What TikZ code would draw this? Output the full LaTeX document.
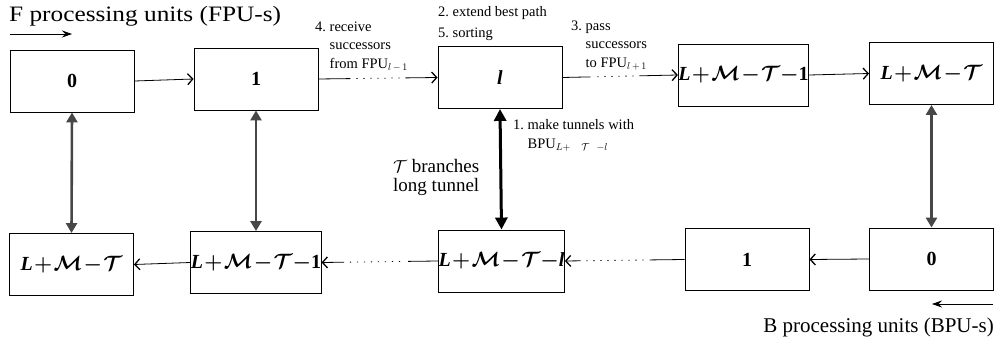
\documentclass[tikz,border=0pt]{standalone}
\usepackage{fontspec}
\setmainfont{Liberation Serif}
\newfontfamily\widefont[FakeStretch=1.15]{Liberation Serif}
\usetikzlibrary{arrows.meta}
\newcommand\bL{\textbf{\textit{L}}}
\newcommand\bl{\textbf{\textit{l}}}
\newcommand\bone{\textbf{1}}
\newcommand\tightops{\medmuskip=1mu\relax}
\begin{document}
\begin{tikzpicture}[x=1pt,y=-1pt,
  unit/.style={draw, line width=0.9pt, minimum width=124pt, minimum height=62pt,
    inner sep=0pt, font=\fontsize{20}{22}\selectfont\bfseries\boldmath},
  mathunit/.style={unit, font=\fontsize{20}{22}\selectfont\bfseries\boldmath\tightops},
  flow/.style={line width=0.8pt,
    -{Straight Barb[length=5pt,width=11pt,line width=1.3pt]}},
  tunnel/.style={line width=2.6pt, draw=black!72,
    {Triangle[length=10pt,width=11pt]}-{Triangle[length=10pt,width=11pt]}},
  longtunnel/.style={line width=3pt, draw=black,
    {Triangle[length=12pt,width=12pt]}-{Triangle[length=12pt,width=12pt]}},
  note/.style={anchor=north west, inner sep=0pt, align=left,
    font=\fontsize{14.5}{18.5}\selectfont},
  dirarrow/.style={line width=0.8pt, -{Stealth[length=10pt,width=7pt]}}
]
\useasboundingbox (0,0) rectangle (997,347);

% forward processing units (top row)
\node[unit] (f0) at (72,81)    {0};
\node[unit] (f1) at (256,79)   {1};
\node[unit] (fl) at (500,77.5) {\bl};
\node[mathunit] (fm) at (743.5,75) {$\bL+\mathcal{M}-\mathcal{T}{-}\bone$};
\node[mathunit] (fn) at (931.5,73.5) {$\bL+\mathcal{M}-\mathcal{T}$};

% backward processing units (bottom row)
\node[mathunit] (bn) at (71.5,264.5) {$\bL+\mathcal{M}-\mathcal{T}$};
\node[mathunit] (bm) at (256,262.5)  {$\bL+\mathcal{M}-\mathcal{T}{-}\bone$};
\node[mathunit] (bl) at (501.5,261)  {$\bL+\mathcal{M}-\mathcal{T}{-}\bl$};
\node[unit] (b1) at (747,259.5)  {1};
\node[unit] (b0) at (931.5,259)  {0};

% forward chain
\draw[flow] (f0.east) -- (f1.west);
\draw[flow, dash pattern=on 32pt off 6pt on 1.2pt off 5.8pt on 1.2pt off 5.8pt
  on 1.2pt off 5.8pt on 1.2pt off 5.8pt on 1.2pt off 5.8pt on 1.2pt off 5.8pt
  on 1.2pt off 5.8pt on 80pt off 0pt] (f1.east) -- (fl.west);
\draw[flow, dash pattern=on 28pt off 7pt on 1.2pt off 5.8pt on 1.2pt off 5.8pt
  on 1.2pt off 5.8pt on 1.2pt off 5.8pt on 1.2pt off 5.8pt on 1.2pt off 5.8pt
  on 80pt off 0pt] (fl.east) -- (fm.west);
\draw[flow] (fm.east) -- (fn.west);

% backward chain
\draw[flow] (b0.west) -- (b1.east);
\draw[flow, dash pattern=on 35pt off 6pt on 1.2pt off 5.8pt on 1.2pt off 5.8pt
  on 1.2pt off 5.8pt on 1.2pt off 5.8pt on 1.2pt off 5.8pt on 1.2pt off 5.8pt
  on 1.2pt off 5.8pt on 1.2pt off 5.8pt on 1.2pt off 5.8pt on 80pt off 0pt]
  (b1.west) -- (bl.east);
\draw[flow, dash pattern=on 30pt off 8pt on 1.2pt off 5.8pt on 1.2pt off 5.8pt
  on 1.2pt off 5.8pt on 1.2pt off 5.8pt on 1.2pt off 5.8pt on 1.2pt off 5.8pt
  on 1.2pt off 5.8pt on 1.2pt off 5.8pt on 80pt off 0pt]
  (bl.west) -- (bm.east);
\draw[flow] (bm.west) -- (bn.east);

% tunnels between the rows
\draw[tunnel] (f0.south) -- (bn.north);
\draw[tunnel] (f1.south) -- (bm.north);
\draw[longtunnel] (fl.south) -- (bl.north);
\draw[tunnel] (fn.south) -- (b0.north);

% titles and direction arrows
\node[anchor=base west, inner sep=0pt, font=\widefont\fontsize{22}{24}\selectfont]
  (ftitle) at (9,22) {F processing units (FPU-s)};
\coordinate (fdirA) at (10,34);
\coordinate (fdirB) at (72,34);
\draw[dirarrow] (fdirA) -- (fdirB);

\node[anchor=base east, inner sep=0pt, font=\fontsize{21}{24}\selectfont]
  (btitle) at (994,333) {B processing units (BPU-s)};
\coordinate (bdirA) at (993,304);
\coordinate (bdirB) at (932,304);
\draw[dirarrow] (bdirA) -- (bdirB);

% step annotations
\node[note] (step4) at (315,21.5)
  {4.~receive\\\hphantom{4.~}successors\\\hphantom{4.~}from FPU$_{l\,-\,1}$};
\node[note] (step25) at (438,6.5) {2.~extend best path\\[2pt]5.~sorting};
\node[note] (step3) at (571,20.5)
  {3.~pass\\\hphantom{3.~}successors\\\hphantom{3.~}to FPU$_{l\,+\,1}$};
\node[note] (step1) at (513,119.5)
  {1.~make tunnels with\\\hphantom{1.~}BPU$_{L+\ \ \ \mathcal{T}\ \ -l}$};
\node[anchor=north west, inner sep=0pt, align=left,
  font=\fontsize{19}{19.5}\selectfont] (tlabel) at (393,159)
  {$\mathcal{T}$ branches\\long tunnel};
\end{tikzpicture}
\end{document}
